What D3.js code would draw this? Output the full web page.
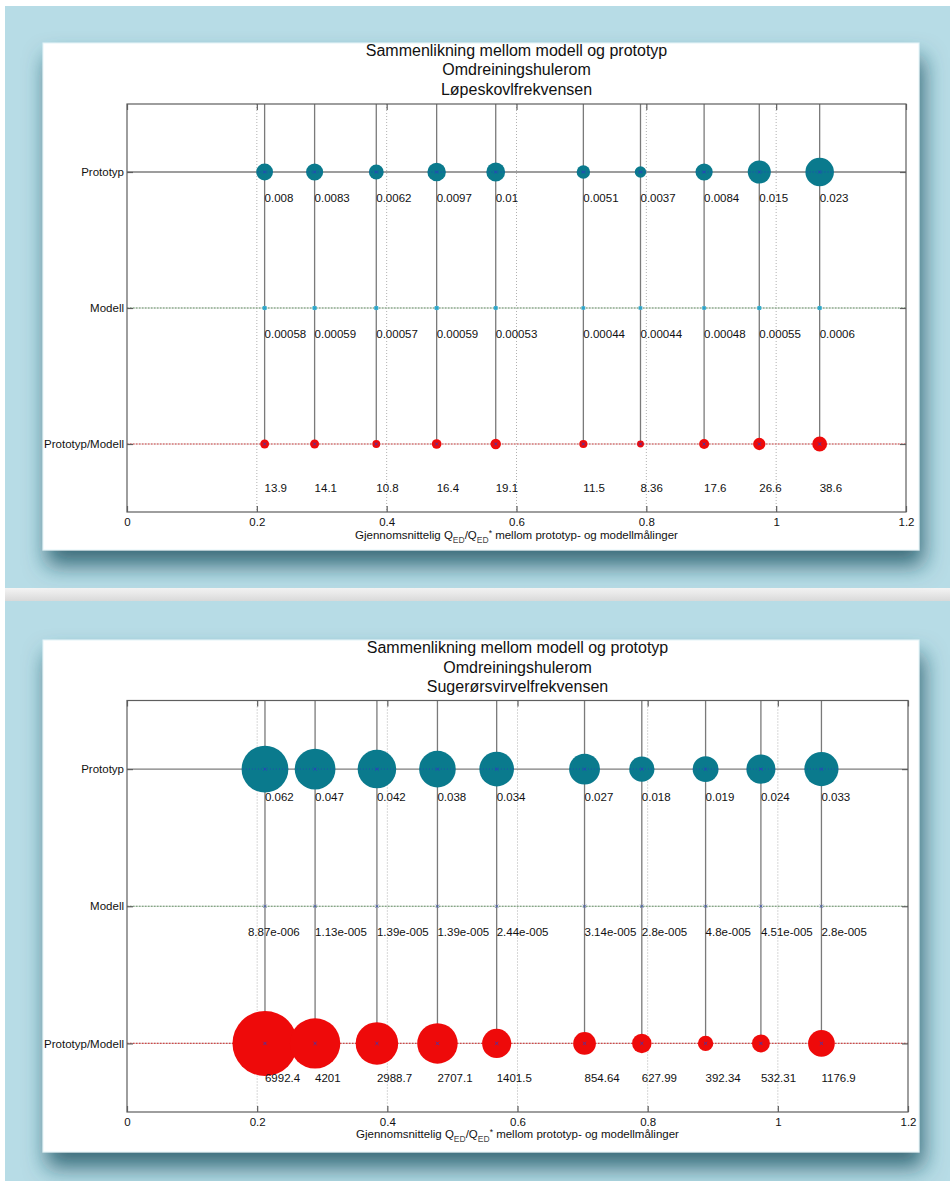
<!DOCTYPE html>
<html>
<head>
<meta charset="utf-8">
<script src="https://cdn.jsdelivr.net/npm/d3@7"></script>
<style>
  html, body { margin: 0; padding: 0; background: #fff; }
  svg { display: block; }
  text { font-family: "Liberation Sans", Arial, Helvetica, sans-serif; }
</style>
</head>
<body>
<svg id="chart" width="950" height="1181"></svg>
<script>
// ---- data ----
const xTicks = [0, 0.2, 0.4, 0.6, 0.8, 1, 1.2];
const xTickLabels = ["0", "0.2", "0.4", "0.6", "0.8", "1", "1.2"];
const rowNames = ["Prototyp", "Modell", "Prototyp/Modell"];

const titleTop = ["Sammenlikning mellom modell og prototyp", "Omdreiningshulerom", "Løpeskovlfrekvensen"];
const titleBottom = ["Sammenlikning mellom modell og prototyp", "Omdreiningshulerom", "Sugerørsvirvelfrekvensen"];

// mean Q_ED/Q_ED* for each measurement pair
const qRatio = [0.212, 0.289, 0.384, 0.477, 0.568, 0.703, 0.791, 0.889, 0.974, 1.067];

// runner blade frequency
const prototypLop = [0.008, 0.0083, 0.0062, 0.0097, 0.01, 0.0051, 0.0037, 0.0084, 0.015, 0.023];
const modellLop = [0.00058, 0.00059, 0.00057, 0.00059, 0.00053, 0.00044, 0.00044, 0.00048, 0.00055, 0.0006];
const forholdLop = [13.9, 14.1, 10.8, 16.4, 19.1, 11.5, 8.36, 17.6, 26.6, 38.6];

// draft tube vortex frequency
const prototypSug = [0.062, 0.047, 0.042, 0.038, 0.034, 0.027, 0.018, 0.019, 0.024, 0.033];
const modellSug = [8.87e-6, 1.13e-5, 1.39e-5, 1.39e-5, 2.44e-5, 3.14e-5, 2.8e-5, 4.8e-5, 4.51e-5, 2.8e-5];
const forholdSug = [6992.4, 4201, 2988.7, 2707.1, 1401.5, 854.64, 627.99, 392.34, 532.31, 1176.9];

// ---- helpers ----
// number text in the style of num2str on Windows (three-digit exponent)
function fmtLabel(v) {
  if (Math.abs(v) < 1e-4) {
    const [m, e] = v.toExponential().split("e");
    const sign = e[0] === "-" ? "-" : "+";
    const digits = e.replace(/^[+-]/, "").padStart(3, "0");
    return m + "e" + sign + digits;
  }
  return String(v);
}

const FONT = "'Liberation Sans', Arial, Helvetica, sans-serif";
const svg = d3.select("#chart");
const defs = svg.append("defs");

const shadow = defs.append("filter").attr("id", "cardShadow")
  .attr("x", "-10%").attr("y", "-10%").attr("width", "125%").attr("height", "135%");
shadow.append("feDropShadow")
  .attr("dx", 4).attr("dy", 15).attr("stdDeviation", 11)
  .attr("flood-color", "#1a4f5e").attr("flood-opacity", 0.8);

const strip = defs.append("linearGradient").attr("id", "strip")
  .attr("x1", 0).attr("y1", 0).attr("x2", 0).attr("y2", 1);
strip.append("stop").attr("offset", "0%").attr("stop-color", "#f4f4f4");
strip.append("stop").attr("offset", "100%").attr("stop-color", "#d9d9d9");

// page background: two light-blue slides separated by a grey strip
svg.append("rect").attr("width", 950).attr("height", 1181).attr("fill", "#ffffff");
svg.append("rect").attr("x", 5).attr("y", 6).attr("width", 945).attr("height", 582).attr("fill", "#b7dce6");
svg.append("rect").attr("x", 5).attr("y", 588).attr("width", 945).attr("height", 13).attr("fill", "url(#strip)");
svg.append("rect").attr("x", 5).attr("y", 601).attr("width", 945).attr("height", 580).attr("fill", "#b7dce6");

const teal = "#0a7a8d";
const red = "#ee0a0a";
const markBlue = "#2c3cc0";

function drawPanel(cfg) {
  const g = svg.append("g");

  // white card
  g.append("rect")
    .attr("x", cfg.card[0]).attr("y", cfg.card[1])
    .attr("width", cfg.card[2] - cfg.card[0]).attr("height", cfg.card[3] - cfg.card[1])
    .attr("fill", "#ffffff").attr("stroke", "#e3f4f8").attr("stroke-width", 1)
    .attr("filter", "url(#cardShadow)");

  const [fx0, fy0, fx1, fy1] = cfg.frame;
  const x = d3.scaleLinear().domain([0, 1.2]).range([fx0, fx1]);
  const y = d3.scalePoint().domain(rowNames).range([fy0, fy1]).padding(0.5);
  const rArea = d3.scaleSqrt().domain([0, 1]).range([0, 94]);
  const rRatio = d3.scaleSqrt().domain([0, cfg.ratioRef]).range([0, cfg.ratioRadius]);

  // title
  g.append("g").selectAll("text").data(cfg.title).join("text")
    .attr("x", (fx0 + fx1) / 2)
    .attr("y", (d, i) => cfg.titleY + i * 19.5)
    .attr("text-anchor", "middle")
    .attr("font-size", 16).attr("fill", "#111")
    .text(d => d);

  // dotted grid at x ticks
  g.append("g").selectAll("line").data(xTicks.slice(1, -1)).join("line")
    .attr("x1", d => x(d)).attr("x2", d => x(d))
    .attr("y1", fy0).attr("y2", fy1)
    .attr("stroke", "#b0b0b0").attr("stroke-width", 1).attr("stroke-dasharray", "1,2");

  // row lines
  const rows = g.append("g");
  rows.append("line").attr("x1", fx0).attr("x2", fx1)
    .attr("y1", y(rowNames[0])).attr("y2", y(rowNames[0]))
    .attr("stroke", "#7d7d7d").attr("stroke-width", 1.4);
  rows.append("line").attr("x1", fx0).attr("x2", fx1)
    .attr("y1", y(rowNames[1])).attr("y2", y(rowNames[1]))
    .attr("stroke", "#c9d2c9").attr("stroke-width", 1.2);
  rows.append("line").attr("x1", fx0).attr("x2", fx1)
    .attr("y1", y(rowNames[1])).attr("y2", y(rowNames[1]))
    .attr("stroke", "#6b946b").attr("stroke-width", 1.2).attr("stroke-dasharray", "1.5,1.5");
  rows.append("line").attr("x1", fx0).attr("x2", fx1)
    .attr("y1", y(rowNames[2])).attr("y2", y(rowNames[2]))
    .attr("stroke", "#d9c4c4").attr("stroke-width", 1.2);
  rows.append("line").attr("x1", fx0).attr("x2", fx1)
    .attr("y1", y(rowNames[2])).attr("y2", y(rowNames[2]))
    .attr("stroke", "#cf4a4a").attr("stroke-width", 1.2).attr("stroke-dasharray", "1.5,1.5");

  // stems from the top of the axes down to the ratio row
  g.append("g").selectAll("line").data(qRatio).join("line")
    .attr("x1", d => x(d)).attr("x2", d => x(d))
    .attr("y1", fy0).attr("y2", y(rowNames[2]))
    .attr("stroke", "#7a7a7a").attr("stroke-width", 1.3);

  const pts = qRatio.map((q, i) => ({
    q, p: cfg.proto[i], m: cfg.model[i], r: cfg.ratio[i], i
  }));

  // bubbles
  g.append("g").selectAll("circle").data(pts).join("circle")
    .attr("cx", d => x(d.q)).attr("cy", y(rowNames[0]))
    .attr("r", d => rArea(d.p)).attr("fill", teal);
  g.append("g").selectAll("circle").data(pts).join("circle")
    .attr("cx", d => x(d.q)).attr("cy", y(rowNames[1]))
    .attr("r", d => Math.max(rArea(d.m), 0.6)).attr("fill", cfg.modelColor);
  g.append("g").selectAll("circle").data(pts).join("circle")
    .attr("cx", d => x(d.q)).attr("cy", y(rowNames[2]))
    .attr("r", d => rRatio(d.r)).attr("fill", red);

  // dotted connector seen inside the prototype bubbles
  const clipId = "clip" + cfg.id;
  defs.append("clipPath").attr("id", clipId).selectAll("circle").data(pts).join("circle")
    .attr("cx", d => x(d.q)).attr("cy", y(rowNames[0])).attr("r", d => rArea(d.p));
  g.append("line").attr("clip-path", `url(#${clipId})`)
    .attr("x1", x(qRatio[0]) - 40).attr("x2", x(qRatio[qRatio.length - 1]) + 40)
    .attr("y1", y(rowNames[0])).attr("y2", y(rowNames[0]))
    .attr("stroke", markBlue).attr("stroke-width", 1).attr("stroke-dasharray", "1,2").attr("opacity", 0.7);

  // centre "x" markers
  const cross = d3.symbol().type(d3.symbolX).size(8);
  rowNames.forEach((rn, k) => {
    g.append("g").selectAll("path").data(pts).join("path")
      .attr("d", cross)
      .attr("transform", d => `translate(${x(d.q)},${y(rn)})`)
      .attr("stroke", k === 1 ? cfg.modelMark : markBlue)
      .attr("stroke-width", 0.8).attr("fill", "none");
  });

  // value labels
  const lab = g.append("g").attr("font-size", 11.5).attr("fill", "#111");
  const series = [
    { key: "p", row: rowNames[0], off: cfg.labelOff[0] },
    { key: "m", row: rowNames[1], off: cfg.labelOff[1] },
    { key: "r", row: rowNames[2], off: cfg.labelOff[2] }
  ];
  series.forEach(s => {
    lab.append("g").selectAll("text").data(pts).join("text")
      .attr("x", d => x(d.q) + ((cfg.labelShift[s.key] || {})[d.i] || 0))
      .attr("y", y(s.row) + s.off)
      .attr("dy", "0.36em")
      .text(d => fmtLabel(d[s.key]));
  });

  // axes box
  g.append("rect").attr("x", fx0).attr("y", fy0)
    .attr("width", fx1 - fx0).attr("height", fy1 - fy0)
    .attr("fill", "none").attr("stroke", "#5e5e5e").attr("stroke-width", 1.2);

  const styleAxis = sel => {
    sel.attr("font-family", FONT).attr("font-size", 11.5);
    sel.select(".domain").remove();
    sel.selectAll(".tick line").attr("stroke", "#5e5e5e").attr("stroke-width", 1.2);
    sel.selectAll(".tick text").attr("fill", "#111");
  };

  g.append("g").attr("transform", `translate(0,${fy1})`)
    .call(d3.axisBottom(x).tickValues(xTicks)
      .tickFormat((d, i) => xTickLabels[i]).tickSizeInner(-6).tickSizeOuter(0).tickPadding(5.5))
    .call(styleAxis);
  g.append("g").attr("transform", `translate(0,${fy0})`)
    .call(d3.axisTop(x).tickValues(xTicks).tickFormat("").tickSizeInner(-6).tickSizeOuter(0))
    .call(styleAxis);
  g.append("g").attr("transform", `translate(${fx0},0)`)
    .call(d3.axisLeft(y).tickSizeInner(-6).tickSizeOuter(0).tickPadding(3))
    .call(styleAxis);
  g.append("g").attr("transform", `translate(${fx1},0)`)
    .call(d3.axisRight(y).tickFormat("").tickSizeInner(-6).tickSizeOuter(0))
    .call(styleAxis);

  // x-axis label with subscripts
  const xl = g.append("text")
    .attr("x", (fx0 + fx1) / 2).attr("y", cfg.xLabelY)
    .attr("text-anchor", "middle").attr("font-size", 11.5).attr("fill", "#111");
  xl.append("tspan").text("Gjennomsnittelig Q");
  xl.append("tspan").attr("font-size", 8.5).attr("dy", 3.5).attr("fill", "#444").text("ED");
  xl.append("tspan").attr("dy", -3.5).text("/Q");
  xl.append("tspan").attr("font-size", 8.5).attr("dy", 3.5).attr("fill", "#444").text("ED");
  xl.append("tspan").attr("font-size", 8.5).attr("dy", -7).text("*");
  xl.append("tspan").attr("dy", 3.5).text(" mellom prototyp- og modellmålinger");
}

drawPanel({
  id: 1,
  card: [43, 43, 919, 550],
  frame: [127, 104, 906, 512],
  title: titleTop,
  titleY: 55.5,
  xLabelY: 539,
  proto: prototypLop, model: modellLop, ratio: forholdLop,
  modelColor: "#36b6cf", modelMark: "#2f8fc8",
  ratioRef: 38.6, ratioRadius: 7.4,
  labelOff: [26, 26, 44],
  labelShift: {}
});

drawPanel({
  id: 2,
  card: [43, 640, 919, 1152],
  frame: [127, 700.5, 908, 1112],
  title: titleBottom,
  titleY: 653,
  xLabelY: 1138,
  proto: prototypSug, model: modellSug, ratio: forholdSug,
  modelColor: "#3a4fa8", modelMark: "#4a5fb0",
  ratioRef: 6992.4, ratioRadius: 32.5,
  labelOff: [28, 26, 34.5],
  labelShift: { m: { 0: -17 } }
});
</script>
</body>
</html>
